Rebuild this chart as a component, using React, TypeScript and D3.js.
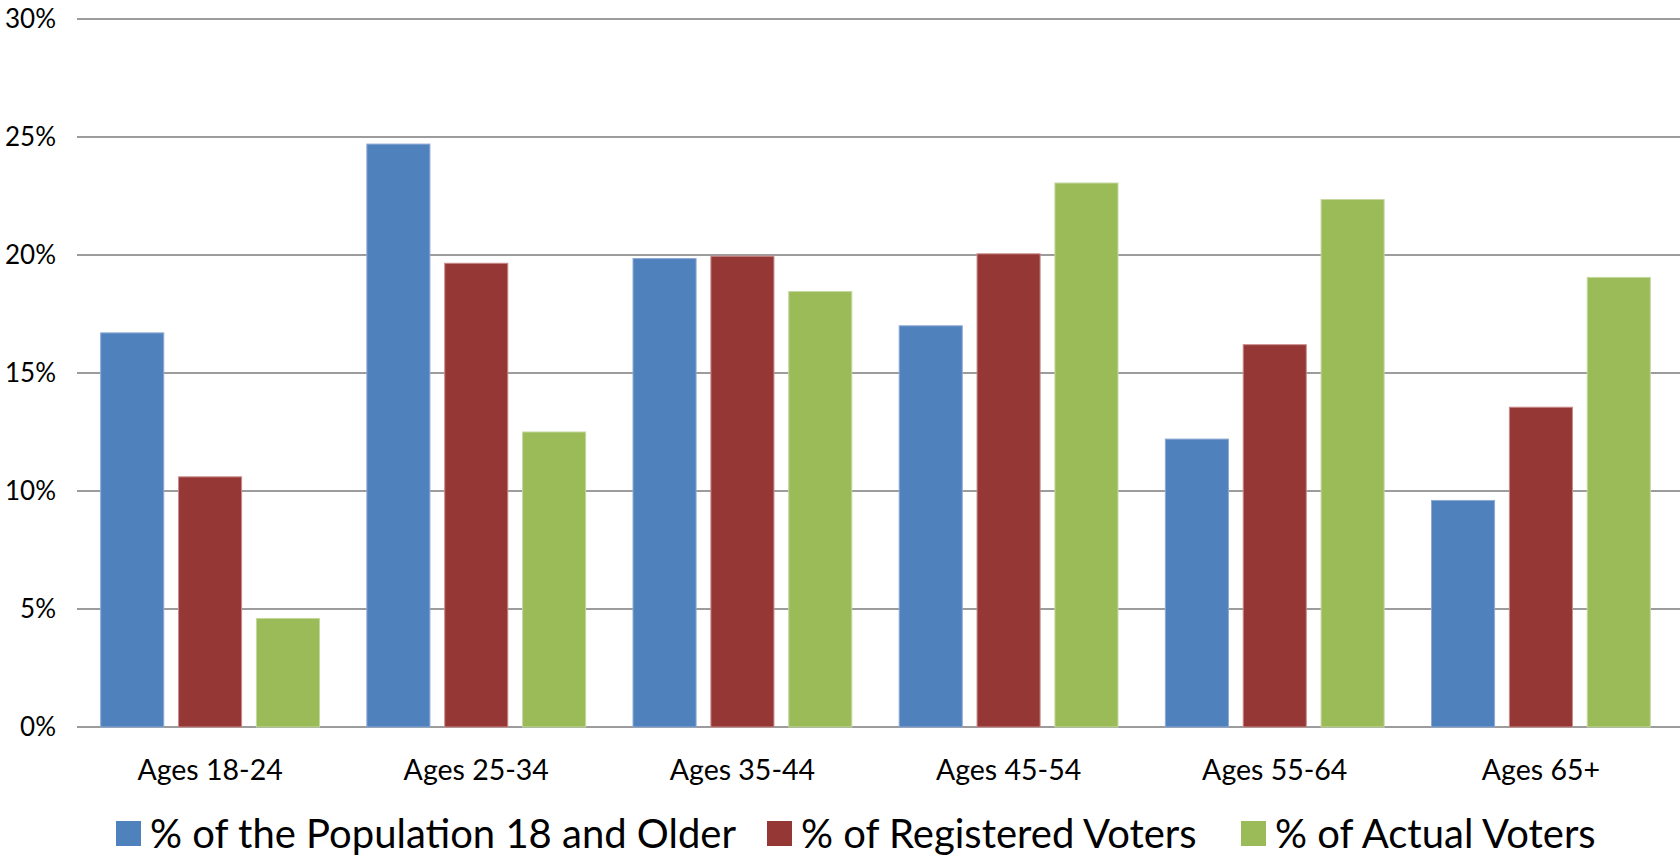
import * as d3 from "d3";
import React from "react";

// age groups on the x axis
const categories = ["Ages 18-24", "Ages 25-34", "Ages 35-44", "Ages 45-54", "Ages 55-64", "Ages 65+"];
const seriesNames = ["% of the Population 18 and Older", "% of Registered Voters", "% of Actual Voters"];
const seriesColors = ["#4F81BD", "#953735", "#9BBB59"];
const seriesStrokes = ["#8fa9d4", "#c98c8b", "#c4d89e"];

// values in percent
const population = [16.7, 24.7, 19.85, 17.0, 12.2, 9.6];
const registered = [10.6, 19.65, 19.95, 20.05, 16.2, 13.55];
const actual = [4.6, 12.5, 18.45, 23.05, 22.35, 19.05];
const yTicks = [0, 5, 10, 15, 20, 25, 30];

const allSeries = [population, registered, actual];

const W = 1680;
const H = 857;
const FONT = "Lato, 'Open Sans', sans-serif";

export default function App() {
  const left = 77;
  const right = 1680;
  const top = 19;
  const bottom = 727;

  const x0 = d3.scaleBand<string>().domain(categories).range([left, 1674]).paddingInner(0.178).paddingOuter(0.089);
  const x1 = d3
    .scaleBand<number>()
    .domain([0, 1, 2])
    .range([0, x0.bandwidth()])
    .paddingInner(0.19)
    .paddingOuter(0);
  const y = d3.scaleLinear().domain([0, 30]).range([bottom, top]);

  // legend layout: [square x, text x]
  const legendX = [[116, 150], [767, 801], [1241, 1275]];

  return (
    <svg width={W} height={H} style={{ position: "absolute", left: 0, top: 0, background: "#fff" }}>
      {/* gridlines */}
      {yTicks.map((t) => (
        <g key={t}>
          <line x1={left} x2={right} y1={y(t)} y2={y(t)} stroke="#9c9c9c" strokeWidth={1.8} />
          <text x={56} y={y(t)} dy="0.36em" textAnchor="end" fontFamily={FONT} fontSize={26} fill="#000">
            {t}%
          </text>
        </g>
      ))}

      {/* bars */}
      {categories.map((c, i) => (
        <g key={c} transform={`translate(${x0(c)},0)`}>
          {allSeries.map((s, j) => (
            <rect
              key={j}
              x={x1(j)}
              y={y(s[i])}
              width={x1.bandwidth()}
              height={y(0) - y(s[i])}
              fill={seriesColors[j]}
              stroke={seriesStrokes[j]}
              strokeWidth={1}
            />
          ))}
          <text
            x={x0.bandwidth() / 2}
            y={780}
            textAnchor="middle"
            fontFamily={FONT}
            fontSize={28.5}
            fill="#000"
          >
            {c}
          </text>
        </g>
      ))}

      {/* legend */}
      {seriesNames.map((n, j) => (
        <g key={n}>
          <rect x={legendX[j][0]} y={821} width={25} height={25} fill={seriesColors[j]} />
          <text x={legendX[j][1]} y={848} fontFamily={FONT} fontSize={40} fill="#000">
            {n}
          </text>
        </g>
      ))}
    </svg>
  );
}
